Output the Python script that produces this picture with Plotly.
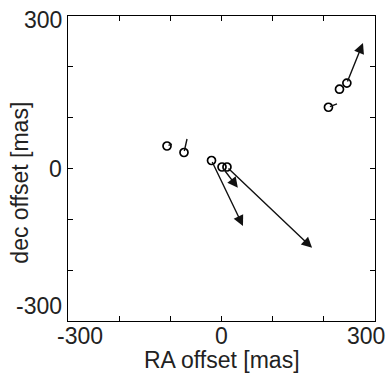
import math
import plotly.graph_objects as go

# positions of the sources (mas)
ra = [-106.5, -73.3, -19.5, 1.0, 10.7, 209.0, 230.6, 245.0]
dec = [44.3, 31.5, 15.7, 3.0, 3.0, 120.5, 156.0, 168.0]
# arrow end points (mas); None = no arrow
ra_end = [-97.0, -67.4, 42.0, 32.0, 177.0, 225.7, None, 276.5]
dec_end = [48.0, 58.0, -113.0, -38.0, -156.0, 127.0, None, 247.0]

tick_vals = [-300, 0, 300]
tick_text = ["-300", "0", "300"]
minor_ticks = [-300, -200, -100, 0, 100, 200, 300]

FONT = "Liberation Sans, Arial, Helvetica, sans-serif"
FS = 23

fig = go.Figure()
fig.add_trace(go.Scatter(
    x=ra, y=dec, mode="markers",
    marker=dict(symbol="circle-open", size=8, color="black", line=dict(width=1.7, color="black")),
    showlegend=False, hoverinfo="skip"))

ann = []
for x0, y0, x1, y1 in zip(ra, dec, ra_end, dec_end):
    if x1 is None:
        continue
    length = math.hypot(x1 - x0, y1 - y0)
    head = 2 if length > 30 else 0
    ann.append(dict(x=x1, y=y1, ax=x0, ay=y0, xref="x", yref="y", axref="x", ayref="y",
                    showarrow=True, arrowhead=head, arrowsize=1.5, arrowwidth=1.4,
                    arrowcolor="#111", text="", standoff=0, startstandoff=0))

# tick labels
for v, t in zip(tick_vals, tick_text):
    if v == -300:
        xa, xs = "left", -13
    elif v == 300:
        xa, xs = "right", 12
    else:
        xa, xs = "center", 0
    ann.append(dict(x=v, y=0, xref="x", yref="paper", text=t, showarrow=False,
                    xanchor=xa, yanchor="top", xshift=xs, yshift=0,
                    font=dict(family=FONT, size=FS, color="#222")))
    if v == 300:
        ya, ys = "middle", -4
    elif v == -300:
        ya, ys = "bottom", 0
    else:
        ya, ys = "middle", 0
    ann.append(dict(x=0, y=v, xref="paper", yref="y", text=t, showarrow=False,
                    xanchor="right", yanchor=ya, xshift=-4, yshift=ys,
                    font=dict(family=FONT, size=FS, color="#222")))

ann.append(dict(x=0.5, y=-0.128, xref="paper", yref="paper", text="RA offset [mas]",
                showarrow=False, xanchor="center", yanchor="middle",
                font=dict(family=FONT, size=FS, color="#222")))
ann.append(dict(x=-0.155, y=0.455, xref="paper", yref="paper", text="dec offset [mas]",
                showarrow=False, xanchor="center", yanchor="middle", textangle=-90,
                font=dict(family=FONT, size=FS, color="#222")))

axis_common = dict(range=[-300, 300], showgrid=False, zeroline=False,
                   showline=True, linecolor="black", linewidth=1.2, mirror="ticks",
                   ticks="inside", ticklen=5, tickwidth=1, tickcolor="black",
                   tickvals=minor_ticks, showticklabels=False)

fig.update_layout(
    width=391, height=373,
    margin=dict(l=68, r=16, t=16, b=52),
    paper_bgcolor="white", plot_bgcolor="white",
    xaxis=axis_common, yaxis=axis_common,
    annotations=ann,
    showlegend=False,
)

fig.write_html("out.html", config={"displayModeBar": False},
               post_script="document.body.style.margin='0';document.body.style.overflow='hidden';")
